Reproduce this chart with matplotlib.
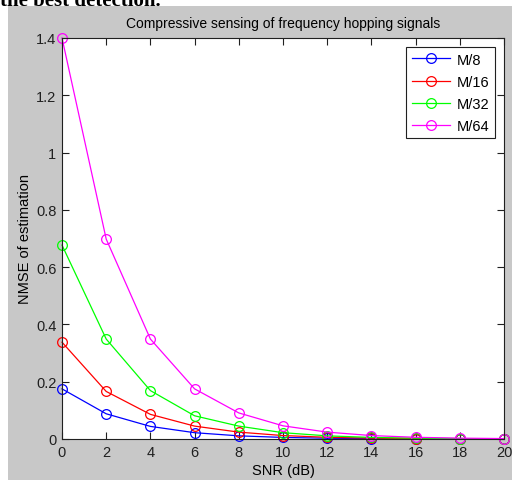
import matplotlib.pyplot as plt
from matplotlib.patches import Rectangle

plt.rcParams['font.family'] = ['Liberation Sans', 'DejaVu Sans']

snr = [0, 2, 4, 6, 8, 10, 12, 14, 16, 18, 20]
m8 = [0.175, 0.088, 0.044, 0.022, 0.011, 0.0055, 0.0027, 0.0014, 0.0007, 0.0003, 0.0002]
m16 = [0.338, 0.166, 0.086, 0.045, 0.024, 0.012, 0.006, 0.003, 0.0015, 0.0008, 0.0004]
m32 = [0.677, 0.349, 0.169, 0.081, 0.045, 0.022, 0.011, 0.0055, 0.0028, 0.0014, 0.0007]
m64 = [1.4, 0.698, 0.349, 0.175, 0.091, 0.046, 0.024, 0.012, 0.006, 0.003, 0.0015]
labels = ['M/8', 'M/16', 'M/32', 'M/64']
colors = ['#0000ff', '#ff0000', '#00ff00', '#ff00ff']

fig = plt.figure(figsize=(5.12, 4.81), dpi=100, facecolor='white')
# gray MATLAB figure area, inset from left/top
fig.patches.append(Rectangle((8/512, 0), 1, 1 - 7/481, transform=fig.transFigure,
                             facecolor='#c8c8c8', edgecolor='none', zorder=-1))
# cut-off caption from the page above
fig.text(0.0, 1 - 1/481, 'the best detection.', family='Liberation Serif',
         fontsize=15, fontweight='bold', ha='left', va='center', color='black')

ax = fig.add_axes([62/512, 41/481, 442/512, 401/481])
for ys, lab, c in zip([m8, m16, m32, m64], labels, colors):
    ax.plot(snr, ys, '-o', color=c, label=lab, lw=0.9, ms=7,
            mfc='none', mec=c, mew=0.9, clip_on=False)

ax.set_xlim(0, 20)
ax.set_ylim(0, 1.4)
ax.set_xticks(range(0, 21, 2))
ax.set_yticks([0, 0.2, 0.4, 0.6, 0.8, 1.0, 1.2, 1.4])
ax.set_yticklabels(['0', '0.2', '0.4', '0.6', '0.8', '1', '1.2', '1.4'])
ax.tick_params(direction='in', top=True, right=True, length=5, width=0.8,
               labelsize=10.5, pad=4, colors='#202020')
for s in ax.spines.values():
    s.set_linewidth(0.8)
    s.set_color('#202020')

ax.set_title('Compressive sensing of frequency hopping signals', fontsize=10, pad=8)
ax.set_xlabel('SNR (dB)', fontsize=10.5, labelpad=3)
ax.set_ylabel('NMSE of estimation', fontsize=10.5, labelpad=3)

leg = ax.legend(loc='upper right', fontsize=10.5, fancybox=False, framealpha=1,
                edgecolor='#202020', handlelength=2.6, handletextpad=0.5,
                borderpad=0.4, labelspacing=0.55, borderaxespad=0.6)
leg.get_frame().set_linewidth(0.8)

fig.savefig('out.png', dpi=100, facecolor=fig.get_facecolor())
